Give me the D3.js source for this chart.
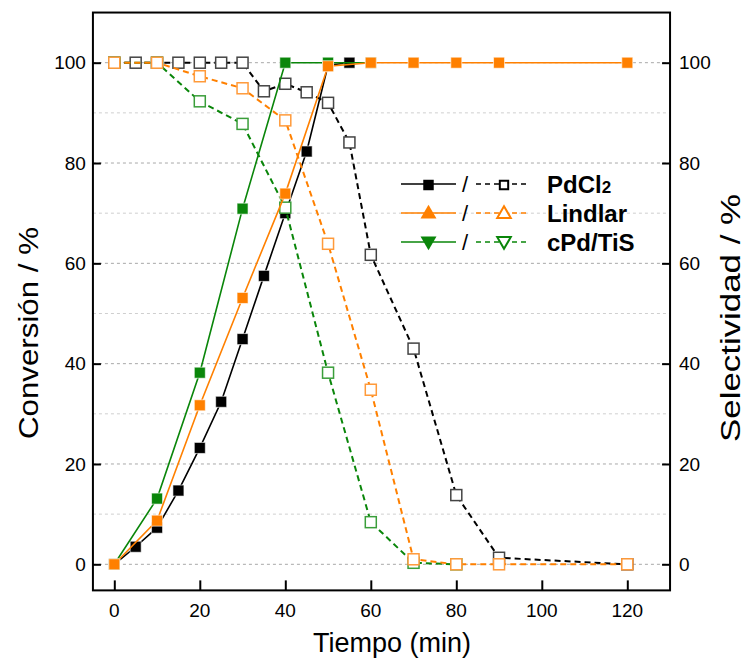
<!DOCTYPE html>
<html>
<head>
<meta charset="utf-8">
<script src="https://cdn.jsdelivr.net/npm/d3@7"></script>
<style>
  body { margin: 0; background: #fff; }
  svg { display: block; font-family: "Liberation Sans", Arial, sans-serif; }
</style>
</head>
<body>
<svg id="chart" width="747" height="659"></svg>
<script>
// ---- Data ----
const xTicks = [0, 20, 40, 60, 80, 100, 120];
const yTicks = [0, 20, 40, 60, 80, 100];
const gridMinor = [10, 30, 50, 70, 90];

// PdCl2
const pdConvTime = [0, 5, 10, 15, 20, 25, 30, 35, 40, 45, 50, 55];
const pdConv     = [0, 3.5, 7.3, 14.7, 23.2, 32.4, 44.9, 57.5, 70.0, 82.3, 99.5, 100];
const pdSelTime  = [0, 5, 10, 15, 20, 25, 30, 35, 40, 45, 50, 55, 60, 70, 80, 90, 120];
const pdSel      = [100, 100, 100, 100, 100, 100, 100, 94.3, 95.8, 94.1, 92.0, 84.1, 61.7, 43.0, 13.8, 1.3, 0];

// cPd/TiS
const tisConvTime = [0, 10, 20, 30, 40, 50, 60];
const tisConv     = [0, 13.1, 38.2, 70.9, 100, 100, 100];
const tisSelTime  = [0, 10, 20, 30, 40, 50, 60, 70, 80];
const tisSel      = [100, 100, 92.3, 87.8, 71.1, 38.2, 8.4, 0.3, 0];

// Lindlar
const linConvTime = [0, 10, 20, 30, 40, 50, 60, 70, 80, 90, 120];
const linConv     = [0, 8.7, 31.7, 53.1, 73.9, 99.3, 100, 100, 100, 100, 100];
const linSelTime  = [0, 10, 20, 30, 40, 50, 60, 70, 80, 90, 120];
const linSel      = [100, 100, 97.3, 94.9, 88.5, 63.9, 34.8, 1.0, 0, 0, 0];

const legendNames = ["PdCl", "Lindlar", "cPd/TiS"];

// ---- Styles ----
const cBlack = "#000000", cOrange = "#ff8000", cGreen = "#0a860a";

const series = [
  { color: cBlack,  openStroke: "#444444", conv: d3.zip(pdConvTime, pdConv),  sel: d3.zip(pdSelTime, pdSel) },
  { color: cGreen,  openStroke: "#3a9e3a", conv: d3.zip(tisConvTime, tisConv), sel: d3.zip(tisSelTime, tisSel) },
  { color: cOrange, openStroke: "#ff9a3a", conv: d3.zip(linConvTime, linConv), sel: d3.zip(linSelTime, linSel) }
];

const svg = d3.select("#chart");
const x = d3.scaleLinear().domain([0, 120]).range([114.3, 627.3]);
const y = d3.scaleLinear().domain([0, 100]).range([564.3, 62.7]);
const xMin = -5, xMax = 130, yMin = -5.2, yMax = 110;
const L = x(xMin), R = x(xMax), T = y(yMax), B = y(yMin);

// gridlines
const grid = svg.append("g");
grid.selectAll("line.major").data(yTicks).join("line")
  .attr("x1", L).attr("x2", R).attr("y1", d => y(d)).attr("y2", d => y(d))
  .attr("stroke", "#a8a8a8").attr("stroke-width", 1).attr("stroke-dasharray", "3,3");
grid.selectAll("line.minor").data(gridMinor).join("line")
  .attr("x1", L).attr("x2", R).attr("y1", d => y(d)).attr("y2", d => y(d))
  .attr("stroke", "#cfcfcf").attr("stroke-width", 1).attr("stroke-dasharray", "3,3");

// Axes
const tickLen = 8;
const axL = svg.append("g").attr("transform", `translate(${L},0)`)
  .call(d3.axisRight(y).tickValues(yTicks).tickSize(tickLen).tickFormat(""));
const axR = svg.append("g").attr("transform", `translate(${R},0)`)
  .call(d3.axisLeft(y).tickValues(yTicks).tickSize(tickLen).tickFormat(""));
const axB = svg.append("g").attr("transform", `translate(0,${B})`)
  .call(d3.axisTop(x).tickValues(xTicks).tickSize(tickLen + 2).tickFormat(""));
[axL, axR, axB].forEach(a => {
  a.select(".domain").remove();
  a.selectAll(".tick line").attr("stroke", "#000").attr("stroke-width", 2);
});

// tick labels
svg.append("g").selectAll("text").data(yTicks).join("text")
  .attr("x", L - 7).attr("y", d => y(d)).attr("dy", "0.35em")
  .attr("text-anchor", "end").attr("font-size", 19).text(d => d);
svg.append("g").selectAll("text").data(yTicks).join("text")
  .attr("x", R + 9).attr("y", d => y(d)).attr("dy", "0.35em")
  .attr("text-anchor", "start").attr("font-size", 19).text(d => d);
svg.append("g").selectAll("text").data(xTicks).join("text")
  .attr("x", d => x(d)).attr("y", B + 27)
  .attr("text-anchor", "middle").attr("font-size", 19).text(d => d);

// frame
svg.append("rect").attr("x", L).attr("y", T).attr("width", R - L).attr("height", B - T)
  .attr("fill", "none").attr("stroke", "#000").attr("stroke-width", 2);

// axis titles
svg.append("text").attr("transform", `translate(392,${B + 62})`)
  .attr("text-anchor", "middle").attr("font-size", 27).text("Tiempo (min)");
svg.append("text").attr("transform", `translate(38,333) rotate(-90)`)
  .attr("text-anchor", "middle").attr("font-size", 27)
  .attr("textLength", 212).attr("lengthAdjust", "spacingAndGlyphs").text("Conversión / %");
svg.append("text").attr("transform", `translate(740,318) rotate(-90)`)
  .attr("text-anchor", "middle").attr("font-size", 27)
  .attr("textLength", 248).attr("lengthAdjust", "spacingAndGlyphs").text("Selectividad / %");

// series
const line = d3.line().x(d => x(d[0])).y(d => y(d[1]));
const ms = 11;
series.forEach(s => {
  const g = svg.append("g");
  g.append("path").datum(s.conv).attr("d", line)
    .attr("fill", "none").attr("stroke", s.color).attr("stroke-width", 1.6);
  g.append("path").datum(s.sel).attr("d", line)
    .attr("fill", "none").attr("stroke", s.color).attr("stroke-width", 2)
    .attr("stroke-dasharray", "6,4");
  g.selectAll("rect.conv").data(s.conv).join("rect")
    .attr("x", d => x(d[0]) - ms / 2).attr("y", d => y(d[1]) - ms / 2)
    .attr("width", ms).attr("height", ms)
    .attr("fill", s.color).attr("stroke", "#fff").attr("stroke-opacity", 0.6).attr("stroke-width", 1);
  g.selectAll("rect.sel").data(s.sel).join("rect")
    .attr("x", d => x(d[0]) - ms / 2).attr("y", d => y(d[1]) - ms / 2)
    .attr("width", ms).attr("height", ms)
    .attr("fill", "#fff").attr("stroke", s.openStroke).attr("stroke-width", 1.5);
});

// legend
const legend = svg.append("g");
const legRows = [
  { name: legendNames[0], color: cBlack, sym: d3.symbolSquare, size: 110, sub: "2", y: 184 },
  { name: legendNames[1], color: cOrange, sym: d3.symbolTriangle, size: 110, y: 213 },
  { name: legendNames[2], color: cGreen, sym: d3.symbolTriangle, size: 110, rot: 180, y: 242 }
];
legRows.forEach(r => {
  const gg = legend.append("g").attr("transform", `translate(0,${r.y})`);
  gg.append("line").attr("x1", 401).attr("x2", 456).attr("stroke", r.color).attr("stroke-width", 1.6);
  gg.append("path").attr("d", d3.symbol(r.sym, r.size)())
    .attr("transform", `translate(428.5,${r.rot ? -1 : 1}) rotate(${r.rot || 0})`)
    .attr("fill", r.color);
  gg.append("text").attr("x", 465).attr("y", 8).attr("text-anchor", "middle")
    .attr("font-size", 22).text("/");
  gg.append("line").attr("x1", 476).attr("x2", 530).attr("stroke", r.color).attr("stroke-width", 1.6)
    .attr("stroke-dasharray", "5,4");
  const shrink = r.sym === d3.symbolSquare ? 70 : 80;
  gg.append("path").attr("d", d3.symbol(r.sym, shrink)())
    .attr("transform", `translate(504,${r.rot ? -1 : 1}) rotate(${r.rot || 0})`)
    .attr("fill", "#fff").attr("stroke", r.color).attr("stroke-width", 2);
  const t = gg.append("text").attr("x", 547).attr("y", 9).attr("font-size", 24).attr("font-weight", "bold");
  t.append("tspan").text(r.name);
  if (r.sub) t.append("tspan").attr("font-size", 17).text(r.sub);
});
</script>
</body>
</html>
